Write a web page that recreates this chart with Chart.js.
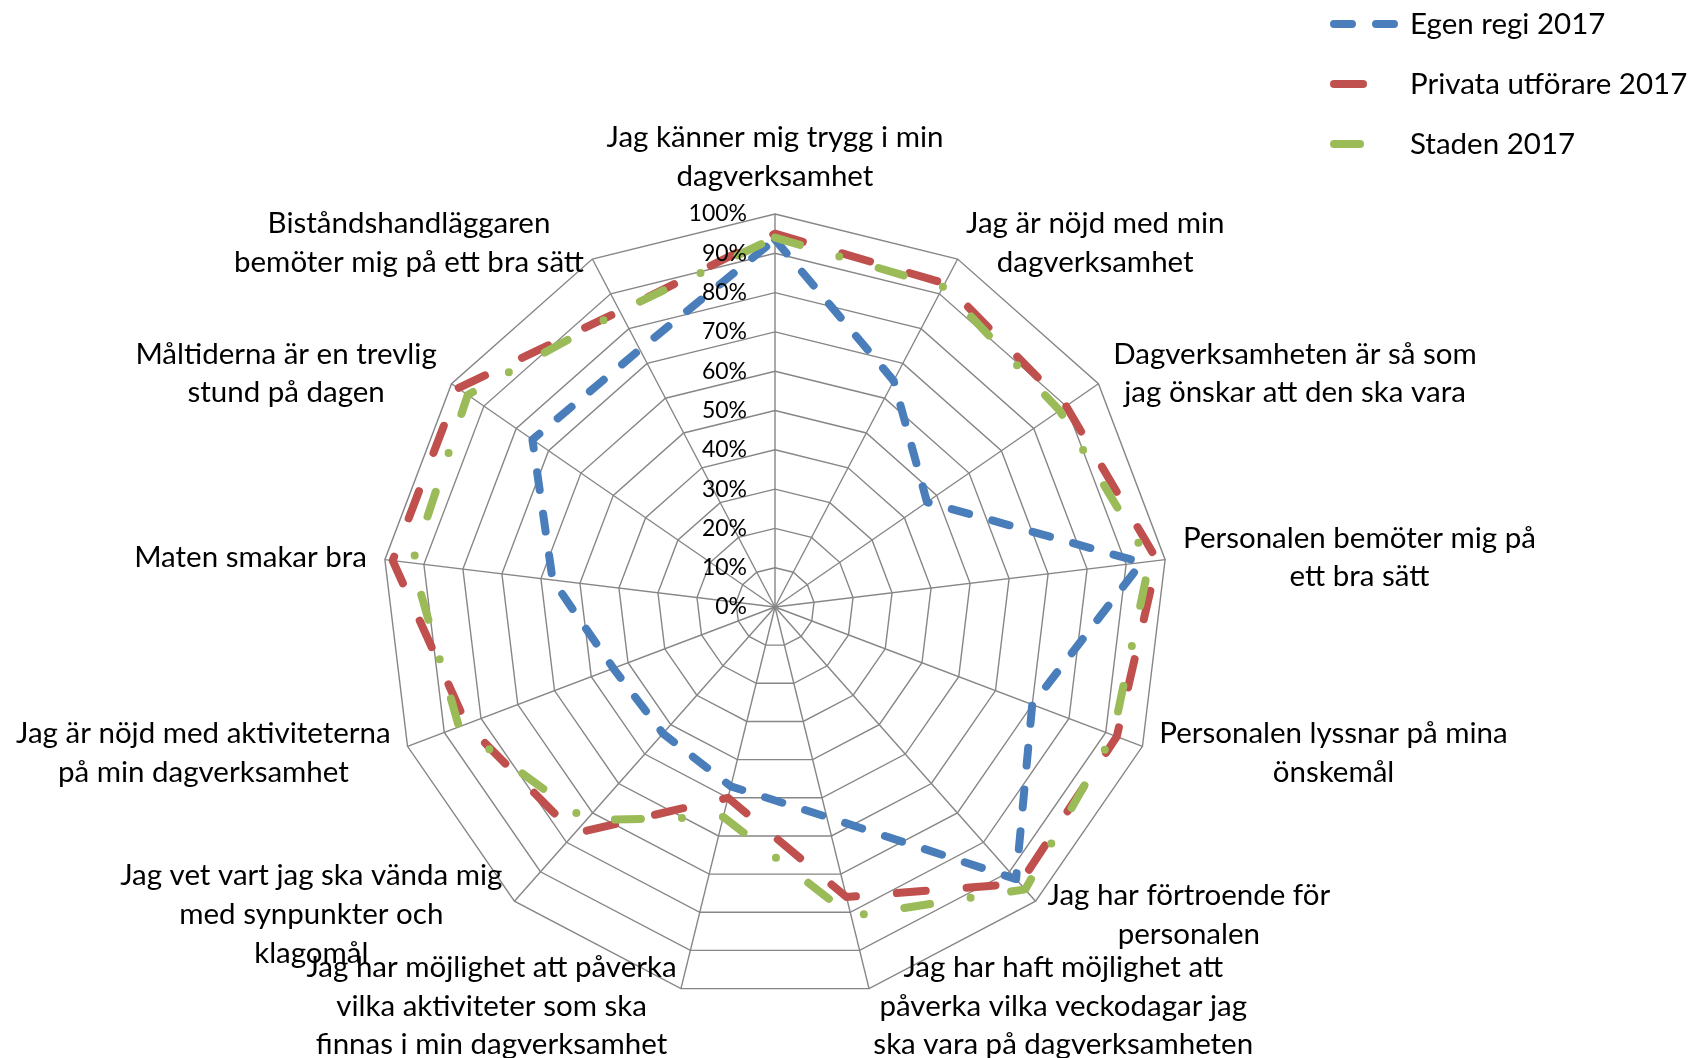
<!DOCTYPE html>
<html>
<head>
<meta charset="utf-8">
<script src="https://cdn.jsdelivr.net/npm/chart.js@4.4.1/dist/chart.umd.min.js"></script>
<style>
  html, body { margin: 0; padding: 0; background: #fff; }
  #wrap { width: 1690px; height: 1058px; position: relative; }
</style>
</head>
<body>
<div id="wrap"><canvas id="radar-chart"></canvas></div>
<script>
const categories = [
    ['Jag känner mig trygg i min', 'dagverksamhet'],
    ['Jag är nöjd med min', 'dagverksamhet'],
    ['Dagverksamheten är så som', 'jag önskar att den ska vara'],
    ['Personalen bemöter mig på', 'ett bra sätt'],
    ['Personalen lyssnar på mina', 'önskemål'],
    ['Jag har förtroende för', 'personalen'],
    ['Jag har haft möjlighet att', 'påverka vilka veckodagar jag', 'ska vara på dagverksamheten'],
    ['Jag har möjlighet att påverka', 'vilka aktiviteter som ska', 'finnas i min dagverksamhet'],
    ['Jag vet vart jag ska vända mig', 'med synpunkter och', 'klagomål'],
    ['Jag är nöjd med aktiviteterna', 'på min dagverksamhet'],
    ['Maten smakar bra'],
    ['Måltiderna är en trevlig', 'stund på dagen'],
    ['Biståndshandläggaren', 'bemöter mig på ett bra sätt']
];
const seriesNames = ['Egen regi 2017', 'Privata utförare 2017', 'Staden 2017'];
const egenRegi = [93.5, 65, 47, 94, 70, 92.5, 55, 47, 43, 44, 57, 75, 74];
const privata = [95, 93, 90, 98, 93, 94, 76, 50, 77, 84, 98, 98, 85];
const staden = [94, 92, 88, 96, 92, 96, 81, 55, 72.5, 86, 93, 95, 85];
const tickLabels = ['0%', '10%', '20%', '30%', '40%', '50%', '60%', '70%', '80%', '90%', '100%'];

const fontName = 'Lato';

// tick labels, point labels and legend drawn on top of the lines
const radarText = {
    id: 'radarText',
    afterDraw(chart) {
        const ctx = chart.ctx;
        const r = chart.scales.r;
        ctx.save();
        ctx.fillStyle = '#000';

        ctx.font = '23px ' + fontName;
        ctx.textAlign = 'right';
        ctx.textBaseline = 'middle';
        r.ticks.forEach((t, i) => {
            const d = r.getDistanceFromCenterForValue(t.value);
            ctx.fillText(tickLabels[i], r.xCenter - 28, r.yCenter - d);
        });

        ctx.font = '29.5px ' + fontName;
        ctx.textAlign = 'center';
        const lh = 38.8;
        categories.forEach((lines, i) => {
            const a = r.getIndexAngle(i);
            const p = r.getPointPosition(i, r.drawingArea + 18);
            const s = Math.sin(a);
            const w = Math.max(...lines.map(l => ctx.measureText(l).width));
            let cx = p.x;
            let cy = p.y;
            if (s > 0.01) cx = p.x + w / 2;
            else if (s < -0.01) cx = p.x - w / 2;
            else cy = Math.cos(a) > 0 ? p.y - lines.length * lh / 2 : p.y + lines.length * lh / 2;
            lines.forEach((l, k) => ctx.fillText(l, cx, cy + (k - (lines.length - 1) / 2) * lh));
        });

        // legend
        ctx.font = '29.5px ' + fontName;
        ctx.textAlign = 'left';
        chart.data.datasets.forEach((ds, k) => {
            const y = 24 + k * 60;
            ctx.strokeStyle = ds.borderColor;
            ctx.lineWidth = ds.borderWidth;
            ctx.lineCap = 'round';
            ctx.setLineDash(ds.borderDash);
            ctx.beginPath();
            ctx.moveTo(1334, y);
            ctx.lineTo(1394, y);
            ctx.stroke();
            ctx.setLineDash([]);
            ctx.fillText(ds.label, 1410, y);
        });
        ctx.restore();
    }
};

const ctx = document.getElementById('radar-chart').getContext('2d');
const radar = new Chart(ctx, {
    type: 'radar',
    data: {
        labels: categories,
        datasets: [{
            label: seriesNames[0],
            data: egenRegi,
            borderColor: '#4A7EBB',
            borderWidth: 8,
            borderDash: [18, 24],
            borderCapStyle: 'round',
            borderJoinStyle: 'round',
            pointRadius: 0,
            fill: false,
            order: 3
        }, {
            label: seriesNames[1],
            data: privata,
            borderColor: '#C0504D',
            borderWidth: 8,
            borderDash: [29, 41],
            borderCapStyle: 'round',
            borderJoinStyle: 'round',
            pointRadius: 0,
            fill: false,
            order: 2
        }, {
            label: seriesNames[2],
            data: staden,
            borderColor: '#9BBB59',
            borderWidth: 8,
            borderDash: [26, 41, 0, 41],
            borderCapStyle: 'round',
            borderJoinStyle: 'round',
            pointRadius: 0,
            fill: false,
            order: 1
        }]
    },
    options: {
        responsive: true,
        maintainAspectRatio: false,
        animation: false,
        layout: {
            padding: { left: 0, right: 140, top: 214, bottom: 58 }
        },
        plugins: {
            legend: { display: false },
            tooltip: { enabled: false }
        },
        scales: {
            r: {
                min: 0,
                max: 100,
                ticks: { stepSize: 10, display: false },
                pointLabels: { display: false },
                grid: { color: '#868686', lineWidth: 1.4 },
                angleLines: { color: '#868686', lineWidth: 1.4 }
            }
        }
    },
    plugins: [radarText]
});
</script>
</body>
</html>
